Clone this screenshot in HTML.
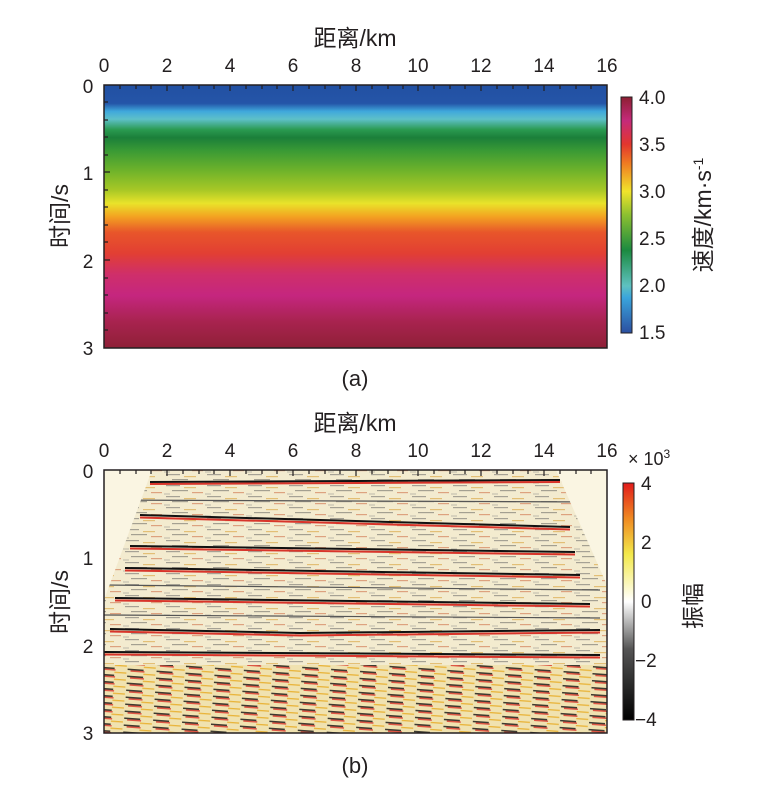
<!DOCTYPE html>
<html><head><meta charset="utf-8"><style>
body{margin:0;background:#fff;}
svg text{font-family:"Liberation Sans","Noto Sans CJK SC",sans-serif;fill:#231f20;}
</style></head><body>
<svg width="783" height="788" viewBox="0 0 783 788" xmlns="http://www.w3.org/2000/svg">
<defs>
<linearGradient id="vel" x1="0" y1="0" x2="0" y2="1">
<stop offset="0" stop-color="#2250a2"/>
<stop offset="0.07" stop-color="#2455a8"/>
<stop offset="0.1" stop-color="#3fa8dc"/>
<stop offset="0.13" stop-color="#5ec0c8"/>
<stop offset="0.17" stop-color="#2a9a50"/>
<stop offset="0.2" stop-color="#1b7f3a"/>
<stop offset="0.25" stop-color="#3a9a35"/>
<stop offset="0.33" stop-color="#72b42a"/>
<stop offset="0.4" stop-color="#a8c826"/>
<stop offset="0.45" stop-color="#e9e32a"/>
<stop offset="0.5" stop-color="#f3a321"/>
<stop offset="0.56" stop-color="#e8562a"/>
<stop offset="0.64" stop-color="#e23f33"/>
<stop offset="0.72" stop-color="#cf2f6a"/>
<stop offset="0.8" stop-color="#c5267f"/>
<stop offset="0.9" stop-color="#a8234f"/>
<stop offset="1" stop-color="#8f2037"/>
</linearGradient>
<linearGradient id="cba" x1="0" y1="1" x2="0" y2="0">
<stop offset="0" stop-color="#2b4fa0"/>
<stop offset="0.15" stop-color="#3aa5dc"/>
<stop offset="0.2" stop-color="#5fc1c0"/>
<stop offset="0.35" stop-color="#1b8a40"/>
<stop offset="0.5" stop-color="#8cc030"/>
<stop offset="0.6" stop-color="#f1e42b"/>
<stop offset="0.72" stop-color="#ef7a22"/>
<stop offset="0.8" stop-color="#e2362e"/>
<stop offset="0.9" stop-color="#c52a7a"/>
<stop offset="1" stop-color="#8d1f33"/>
</linearGradient>
<linearGradient id="cbb" x1="0" y1="1" x2="0" y2="0">
<stop offset="0" stop-color="#000"/>
<stop offset="0.3" stop-color="#555"/>
<stop offset="0.5" stop-color="#fff"/>
<stop offset="0.7" stop-color="#f2e84a"/>
<stop offset="0.85" stop-color="#ef8a22"/>
<stop offset="1" stop-color="#e21b1b"/>
</linearGradient>
<pattern id="tex" width="41" height="11" patternUnits="userSpaceOnUse">
<rect width="41" height="11" fill="#f3ebcf"/>
<rect x="2" y="1" width="14" height="1.2" fill="#666" opacity="0.55"/>
<rect x="20" y="3" width="12" height="1.2" fill="#d9a23a" opacity="0.6"/>
<rect x="8" y="6" width="16" height="1.2" fill="#444" opacity="0.45"/>
<rect x="28" y="8" width="11" height="1.2" fill="#c85a30" opacity="0.5"/>
<rect x="0" y="9.5" width="6" height="1" fill="#888" opacity="0.5"/>
</pattern>
<pattern id="tex2" width="29" height="7" patternUnits="userSpaceOnUse" patternTransform="rotate(4)">
<rect width="29" height="7" fill="#f0e2b0"/>
<rect x="0" y="0" width="16" height="1.5" fill="#111" opacity="0.8"/>
<rect x="3" y="1.5" width="14" height="1.5" fill="#d8342a" opacity="0.8"/>
<rect x="16" y="4" width="12" height="1.3" fill="#e9b43a"/>
</pattern>
</defs>

<!-- Panel a -->
<text x="355" y="46" font-size="23" text-anchor="middle">距离/km</text>
<g font-size="19" text-anchor="middle">
<text x="104" y="72">0</text><text x="167" y="72">2</text><text x="230" y="72">4</text><text x="293" y="72">6</text><text x="356" y="72">8</text><text x="418" y="72">10</text><text x="481" y="72">12</text><text x="544" y="72">14</text><text x="607" y="72">16</text>
<text x="88" y="93">0</text><text x="88" y="180">1</text><text x="88" y="268">2</text><text x="88" y="355">3</text>
</g>
<text transform="translate(68,216) rotate(-90)" font-size="23" text-anchor="middle">时间/s</text>
<rect x="104" y="85" width="503" height="263" fill="url(#vel)" stroke="#231f20" stroke-width="1.5"/>
<path d="M120,85v4M136,85v4M151,85v4M167,85v6M183,85v4M199,85v4M214,85v4M230,85v6M246,85v4M262,85v4M277,85v4M293,85v6M309,85v4M325,85v4M340,85v4M356,85v6M372,85v4M388,85v4M403,85v4M418,85v6M434,85v4M450,85v4M465,85v4M481,85v6M497,85v4M513,85v4M528,85v4M544,85v6M560,85v4M576,85v4M591,85v4M104,102h4M104,120h4M104,137h4M104,155h4M104,172h6M104,190h4M104,207h4M104,225h4M104,242h4M104,260h6M104,278h4M104,295h4M104,313h4M104,330h4" stroke="#231f20" stroke-width="1.2"/>
<rect x="621" y="97" width="11" height="236" fill="url(#cba)" stroke="#231f20"/>
<g font-size="19"><text x="639" y="104">4.0</text><text x="639" y="151">3.5</text><text x="639" y="198">3.0</text><text x="639" y="245">2.5</text><text x="639" y="292">2.0</text><text x="639" y="339">1.5</text></g>
<text transform="translate(711,215) rotate(-90)" font-size="23" text-anchor="middle">速度/km·s<tspan dy="-8" font-size="14">-1</tspan></text>
<text x="355" y="386" font-size="22" text-anchor="middle">(a)</text>

<!-- Panel b -->
<text x="355" y="431" font-size="23" text-anchor="middle">距离/km</text>
<g font-size="19" text-anchor="middle">
<text x="104" y="457">0</text><text x="167" y="457">2</text><text x="230" y="457">4</text><text x="293" y="457">6</text><text x="356" y="457">8</text><text x="418" y="457">10</text><text x="481" y="457">12</text><text x="544" y="457">14</text><text x="607" y="457">16</text>
<text x="88" y="478">0</text><text x="88" y="565">1</text><text x="88" y="653">2</text><text x="88" y="740">3</text>
</g>
<text transform="translate(68,602) rotate(-90)" font-size="23" text-anchor="middle">时间/s</text>
<rect x="104" y="470" width="503" height="263" fill="url(#tex)"/>
<rect x="104" y="665" width="503" height="68" fill="url(#tex2)"/>
<g stroke-width="2" fill="none">
<path d="M150,482 L560,480" stroke="#111"/><path d="M150,484 L560,482" stroke="#d8342a"/>
<path d="M140,515 L570,527" stroke="#111"/><path d="M140,517.5 L570,529.5" stroke="#d8342a"/>
<path d="M130,546 L575,552" stroke="#111"/><path d="M130,548.5 L575,554.5" stroke="#d8342a"/>
<path d="M125,568 L580,575" stroke="#111"/><path d="M125,570.5 L580,577.5" stroke="#d8342a"/>
<path d="M115,598 L590,604" stroke="#111"/><path d="M115,600.5 L590,606.5" stroke="#d8342a"/>
<path d="M110,629 L300,633 L600,630" stroke="#111"/><path d="M110,631.5 L300,635.5 L600,632.5" stroke="#d8342a"/>
<path d="M104,652 L600,655" stroke="#111"/><path d="M104,654.5 L600,657.5" stroke="#d8342a"/>
<path d="M104,500 L600,502" stroke="#555" stroke-width="1.2"/>
<path d="M104,585 L600,590" stroke="#555" stroke-width="1.2"/>
<path d="M104,615 L600,618" stroke="#555" stroke-width="1.2"/>
</g>
<polygon points="104,470 152,470 104,600" fill="#faf5e2"/>
<polygon points="556,470 607,470 607,585" fill="#faf5e2"/>
<rect x="104" y="470" width="503" height="263" fill="none" stroke="#231f20" stroke-width="1.5"/>
<path d="M120,470v4M136,470v4M151,470v4M167,470v6M183,470v4M199,470v4M214,470v4M230,470v6M246,470v4M262,470v4M277,470v4M293,470v6M309,470v4M325,470v4M340,470v4M356,470v6M372,470v4M388,470v4M403,470v4M418,470v6M434,470v4M450,470v4M465,470v4M481,470v6M497,470v4M513,470v4M528,470v4M544,470v6M560,470v4M576,470v4M591,470v4" stroke="#231f20" stroke-width="1.2"/>
<rect x="623" y="483" width="11" height="237" fill="url(#cbb)" stroke="#231f20"/>
<g font-size="19"><text x="641" y="490">4</text><text x="641" y="549">2</text><text x="641" y="608">0</text><text x="635" y="667">−2</text><text x="635" y="726">−4</text></g>
<text x="628" y="465" font-size="18">× 10<tspan dy="-7" font-size="12">3</tspan></text>
<text transform="translate(701,606) rotate(-90)" font-size="23" text-anchor="middle">振幅</text>
<text x="355" y="773" font-size="22" text-anchor="middle">(b)</text>
</svg>
</body></html>
